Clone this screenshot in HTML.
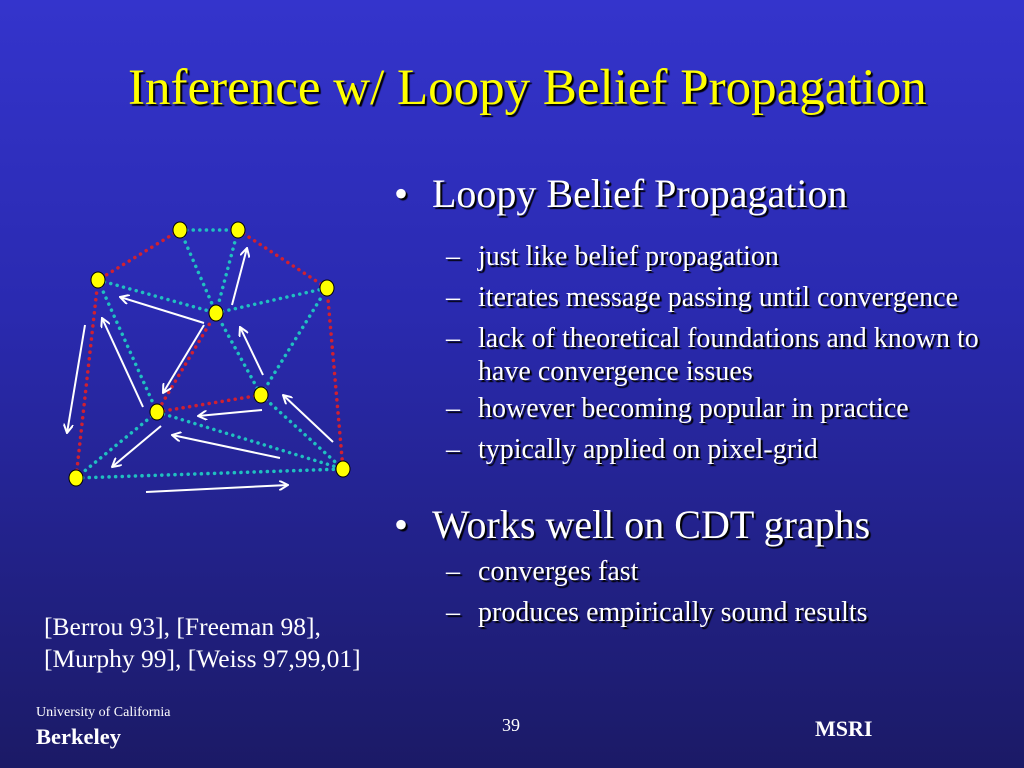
<!DOCTYPE html>
<html><head><meta charset="utf-8"><style>
body{margin:0;width:1024px;height:768px;overflow:hidden;background:linear-gradient(to bottom,#3434cc 0%,#2a2ab0 40%,#1b1a66 100%);font-family:"Liberation Serif","Times New Roman",serif;color:#fff;position:relative}
.t{position:absolute;white-space:nowrap}
.sh{text-shadow:2px 2px 1px #000}
.d{display:inline-block;width:32px}
</style></head><body>
<div class="t sh" style="left:128px;top:60px;font-size:51px;color:#ffff00;line-height:56px">Inference w/ Loopy Belief Propagation</div>
<div class="t sh" style="left:394px;top:172px;font-size:40px;line-height:44px">•</div>
<div class="t sh" style="left:432px;top:172px;font-size:40px;line-height:44px">Loopy Belief Propagation</div>
<div class="sh" style="position:absolute;left:446px;top:236px;font-size:28px;line-height:41px;white-space:nowrap">
<div><span class="d">–</span>just like belief propagation</div>
<div><span class="d">–</span>iterates message passing until convergence</div>
<div style="line-height:33px;margin-top:4px"><span class="d">–</span>lack of theoretical foundations and known to<br><span style="padding-left:32px">have convergence issues</span></div>
<div><span class="d">–</span>however becoming popular in practice</div>
<div><span class="d">–</span>typically applied on pixel-grid</div>
</div>
<div class="t sh" style="left:394px;top:503px;font-size:40px;line-height:44px">•</div>
<div class="t sh" style="left:432px;top:503px;font-size:40px;line-height:44px">Works well on CDT graphs</div>
<div class="sh" style="position:absolute;left:446px;top:551px;font-size:28px;line-height:41px;white-space:nowrap">
<div><span class="d">–</span>converges fast</div>
<div><span class="d">–</span>produces empirically sound results</div>
</div>
<div class="t" style="left:44px;top:611px;font-size:25.5px;line-height:32px">[Berrou 93], [Freeman 98],<br>[Murphy 99], [Weiss 97,99,01]</div>
<div class="t" style="left:36px;top:705px;font-size:14px">University of California</div>
<div class="t" style="left:36px;top:724px;font-size:22.5px;font-weight:bold">Berkeley</div>
<div class="t" style="left:502px;top:715px;font-size:18px">39</div>
<div class="t" style="left:815px;top:716px;font-size:22px;font-weight:bold">MSRI</div>
<svg width="1024" height="768" style="position:absolute;left:0;top:0">
<defs><marker id="a" markerWidth="10" markerHeight="10" refX="9" refY="5" orient="auto" markerUnits="userSpaceOnUse"><path d="M0,0 L9,5 L0,10" fill="none" stroke="#fff" stroke-width="2"/></marker></defs>
<g stroke-width="3.5" stroke-dasharray="0.1 6.5" stroke-linecap="round" fill="none">
<g stroke="#d02030">
<line x1="180" y1="230" x2="98" y2="280"/><line x1="238" y1="230" x2="327" y2="288"/><line x1="98" y1="280" x2="76" y2="478"/><line x1="327" y1="288" x2="343" y2="469"/><line x1="216" y1="313" x2="157" y2="412"/><line x1="157" y1="412" x2="261" y2="395"/>
</g>
<g stroke="#20c0c0">
<line x1="180" y1="230" x2="238" y2="230"/><line x1="180" y1="230" x2="216" y2="313"/><line x1="238" y1="230" x2="216" y2="313"/><line x1="98" y1="280" x2="216" y2="313"/><line x1="216" y1="313" x2="327" y2="288"/><line x1="98" y1="280" x2="157" y2="412"/><line x1="216" y1="313" x2="261" y2="395"/><line x1="327" y1="288" x2="261" y2="395"/><line x1="157" y1="412" x2="76" y2="478"/><line x1="76" y1="478" x2="343" y2="469"/><line x1="157" y1="412" x2="343" y2="469"/><line x1="261" y1="395" x2="343" y2="469"/>
</g></g>
<g stroke="#fff" stroke-width="2" marker-end="url(#a)">
<line x1="232" y1="305" x2="247" y2="248"/><line x1="204" y1="323" x2="120" y2="297"/><line x1="204" y1="325" x2="163" y2="393"/><line x1="143" y1="407" x2="102" y2="318"/><line x1="85" y1="325" x2="67" y2="433"/><line x1="263" y1="375" x2="240" y2="327"/><line x1="262" y1="410" x2="198" y2="416"/><line x1="333" y1="442" x2="283" y2="395"/><line x1="280" y1="458" x2="172" y2="435"/><line x1="161" y1="426" x2="112" y2="467"/><line x1="146" y1="492" x2="288" y2="485"/>
</g>
<g fill="#ffff00" stroke="#000" stroke-width="1">
<ellipse cx="180" cy="230" rx="7" ry="8"/><ellipse cx="238" cy="230" rx="7" ry="8"/><ellipse cx="98" cy="280" rx="7" ry="8"/><ellipse cx="327" cy="288" rx="7" ry="8"/><ellipse cx="216" cy="313" rx="7" ry="8"/><ellipse cx="261" cy="395" rx="7" ry="8"/><ellipse cx="157" cy="412" rx="7" ry="8"/><ellipse cx="76" cy="478" rx="7" ry="8"/><ellipse cx="343" cy="469" rx="7" ry="8"/>
</g>
</svg>
</body></html>
